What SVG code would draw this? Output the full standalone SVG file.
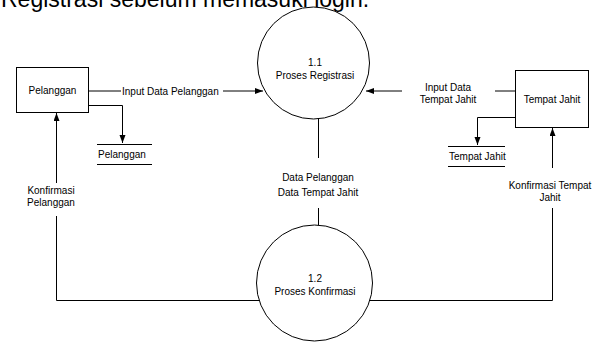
<svg xmlns="http://www.w3.org/2000/svg" width="599" height="345" viewBox="0 0 599 345">
<style>
.t{font-family:"Liberation Sans",Arial,sans-serif;font-size:10px;fill:#000}
.m{text-anchor:middle}
.s{fill:#fff;stroke:#000;stroke-width:1}
.c{fill:none;stroke:#000;stroke-width:1}
</style>
<defs>
<marker id="ah" markerUnits="userSpaceOnUse" markerWidth="9" markerHeight="7" refX="8" refY="3" orient="auto">
<path d="M0,0 L8,3 L0,6 z" fill="#000"/>
</marker>
</defs>
<rect width="599" height="345" fill="#fff"/>
<text x="1" y="6.5" font-family="Liberation Sans, Arial, sans-serif" font-size="23" fill="#000">Registrasi sebelum memasuki login.</text>

<g id="connectors">
<polyline class="c" points="88.5,91 121,91"/>
<polyline class="c" points="223,91 263,91" marker-end="url(#ah)"/>
<polyline class="c" points="88.5,105.5 122.5,105.5 122.5,143" marker-end="url(#ah)"/>
<polyline class="c" points="515,91 495,91"/>
<polyline class="c" points="402,91 366,91" marker-end="url(#ah)"/>
<polyline class="c" points="515,117.5 477.5,117.5 477.5,145" marker-end="url(#ah)"/>
<polyline class="c" points="318.5,119 318.5,158"/>
<polyline class="c" points="318.5,208 318.5,225"/>
<polyline class="c" points="56.5,183 56.5,113" marker-end="url(#ah)"/>
<polyline class="c" points="56.5,216 56.5,300.5 259,300.5"/>
<polyline class="c" points="552.5,168 552.5,128" marker-end="url(#ah)"/>
<polyline class="c" points="552.5,208 552.5,300.5 370,300.5"/>
<text class="t" x="122" y="94.5">Input Data Pelanggan</text>
<text class="t m" x="448" y="90.5">Input Data</text>
<text class="t m" x="448" y="103">Tempat Jahit</text>
<text class="t m" x="318" y="180.5">Data Pelanggan</text>
<text class="t m" x="318" y="196">Data Tempat Jahit</text>
<text class="t m" x="51" y="193.5">Konfirmasi</text>
<text class="t m" x="51" y="206">Pelanggan</text>
<text class="t m" x="550" y="188.5">Konfirmasi Tempat</text>
<text class="t m" x="550" y="200.5">Jahit</text>
</g>

<g id="pelanggan">
<rect class="s" x="16.5" y="67.5" width="72" height="45"/>
<text class="t m" x="52.5" y="93.5">Pelanggan</text>
</g>

<g id="tempat-jahit">
<rect class="s" x="515.5" y="70.5" width="73" height="57"/>
<text class="t m" x="552" y="102.5">Tempat Jahit</text>
</g>

<g id="store-pelanggan">
<line class="c" x1="97" y1="144.5" x2="152" y2="144.5"/>
<line class="c" x1="97" y1="164.5" x2="152" y2="164.5"/>
<text class="t" x="98" y="157.5">Pelanggan</text>
</g>

<g id="store-tempat-jahit">
<line class="c" x1="448" y1="146.5" x2="505" y2="146.5"/>
<line class="c" x1="448" y1="166.5" x2="505" y2="166.5"/>
<text class="t" x="449" y="159.5">Tempat Jahit</text>
</g>

<g id="proses-registrasi">
<circle class="s" cx="313.5" cy="63" r="56"/>
<text class="t m" x="315" y="65.5">1.1</text>
<text class="t m" x="315" y="78.5">Proses Registrasi</text>
</g>

<g id="proses-konfirmasi">
<circle class="s" cx="314.5" cy="283" r="58"/>
<text class="t m" x="315" y="281.5">1.2</text>
<text class="t m" x="315" y="295">Proses Konfirmasi</text>
</g>
</svg>
